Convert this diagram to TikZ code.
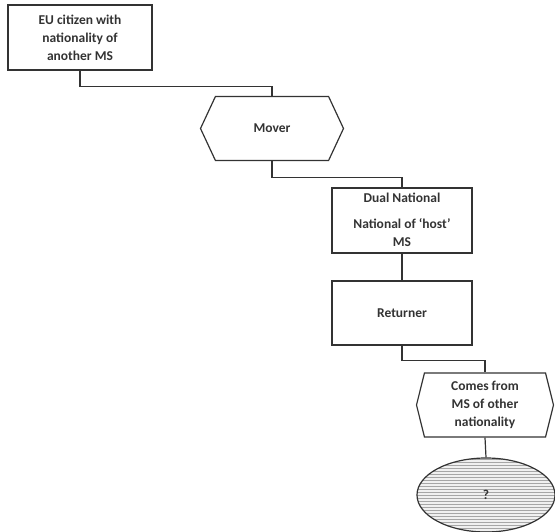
\documentclass[tikz,border=0pt]{standalone}
\usepackage{fontspec}
\setmainfont{Carlito}
\usetikzlibrary{shapes.symbols,shapes.geometric,patterns}
\begin{document}
\begin{tikzpicture}[x=1pt,y=-1pt,
  every node/.style={font=\bfseries\fontsize{13.5}{18}\selectfont, text=black!80},
  box/.style={draw=black!80, line width=1.2pt, rectangle, align=center, inner sep=2pt},
  hexa/.style={draw=black!80, line width=1.2pt, signal, signal to=west and east, align=center, inner sep=2pt},
  link/.style={draw=black!80, line width=1.2pt}
]
\useasboundingbox (0,0) rectangle (555,532);

\node[box, minimum width=144pt, minimum height=65pt] (citizen) at (80,37.5)
  {EU citizen with\\nationality of\\another MS};
\node[hexa, signal pointer angle=130, minimum width=143pt, minimum height=64pt] (mover) at (272,128.5)
  {Mover};
\node[box, minimum width=140pt, minimum height=65pt] (dual) at (402,220.5)
  {};
\node[align=center, anchor=north, inner sep=1pt, yshift=-4pt] (dualtext) at (dual.north)
  {Dual National\\[8pt]National of ‘host’\\MS};
\node[box, minimum width=140pt, minimum height=64pt] (returner) at (402,313)
  {Returner};
\node[hexa, signal pointer angle=152, minimum width=137pt, minimum height=64pt] (comes) at (485,405)
  {Comes from\\MS of other\\nationality};
\node[ellipse, draw=black!80, line width=1.2pt, minimum width=138pt, minimum height=74pt,
  preaction={fill=gray!12}, pattern=horizontal lines, pattern color=gray!70] (unknown) at (486,495)
  {?};

\draw[link] (citizen.south) -- ++(0,16) -| (mover.north);
\draw[link] (mover.south) -- ++(0,16.5) -| (dual.north);
\draw[link] (dual.south) -- (returner.north);
\draw[link] (returner.south) -- ++(0,15) -| (comes.north);
\draw[link] (comes.south) -- (unknown.north);
\end{tikzpicture}
\end{document}
